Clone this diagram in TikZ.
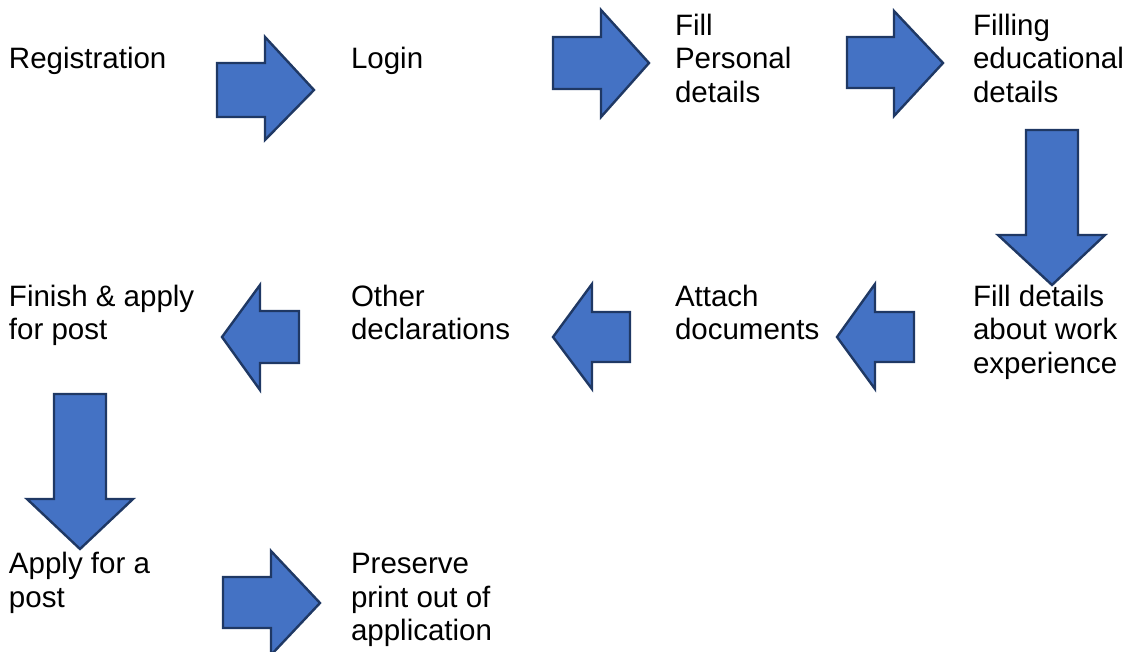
\documentclass[tikz,border=0pt]{standalone}
\usepackage{fontspec}
\setmainfont{Liberation Sans}
\definecolor{arrowfill}{HTML}{4472C4}
\definecolor{arrowline}{HTML}{1F3864}
\begin{document}
\begin{tikzpicture}[x=1pt,y=-1pt,
  label/.style={anchor=north west,inner sep=0pt,outer sep=0pt,align=left,
    font=\fontsize{29.5}{33.5}\selectfont},
  blockarrow/.style={fill=arrowfill,draw=arrowline,line width=2.4pt,line join=miter}]
\useasboundingbox (0,0) rectangle (1132,652);
% text nodes (first baseline minus strut height 23.45)
\node[label] (reg)    at (9,45)    {\strut Registration};
\node[label] (login)  at (351,45)  {\strut Login};
\node[label] (pers)   at (675,12)  {\strut Fill\\Personal\\details};
\node[label] (edu)    at (973,12)  {\strut Filling\\educational\\details};
\node[label] (work)   at (973,283) {\strut Fill details\\about work\\experience};
\node[label] (docs)   at (675,283) {\strut Attach\\documents};
\node[label] (decl)   at (351,283) {\strut Other\\declarations};
\node[label] (finish) at (9,283)   {\strut Finish \& apply\\for post};
\node[label] (apply)  at (9,550.5) {\strut Apply for a\\post};
\node[label] (print)  at (351,550.5) {\strut Preserve\\print out of\\application};
% right arrows
\draw[blockarrow] (217,63) -- (265,63) -- (265,37) -- (314,90) -- (265,140) -- (265,117) -- (217,117) -- cycle;
\draw[blockarrow] (553,37) -- (601,37) -- (601,10) -- (649,63) -- (601,117) -- (601,89) -- (553,89) -- cycle;
\draw[blockarrow] (847,37) -- (894,37) -- (894,11) -- (943,63) -- (894,116) -- (894,88) -- (847,88) -- cycle;
\draw[blockarrow] (223,577) -- (271,577) -- (271,551) -- (320,603) -- (271,655) -- (271,628) -- (223,628) -- cycle;
% down arrows
\draw[blockarrow] (1026,130) -- (1078,130) -- (1078,235) -- (1105,235) -- (1052,285) -- (998,235) -- (1026,235) -- cycle;
\draw[blockarrow] (54,394) -- (106,394) -- (106,499) -- (133,499) -- (80,549) -- (27,499) -- (54,499) -- cycle;
% left arrows
\draw[blockarrow] (914,312) -- (875,312) -- (875,284) -- (837,337) -- (875,389) -- (875,362) -- (914,362) -- cycle;
\draw[blockarrow] (630,312) -- (592,312) -- (592,284) -- (553,337) -- (592,389) -- (592,362) -- (630,362) -- cycle;
\draw[blockarrow] (299,311) -- (260,311) -- (260,285) -- (222,337) -- (260,390) -- (260,363) -- (299,363) -- cycle;
\end{tikzpicture}
\end{document}
